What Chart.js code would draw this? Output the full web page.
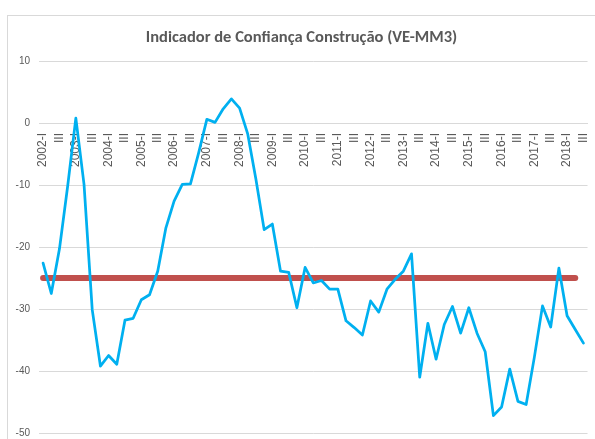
<!DOCTYPE html>
<html><head><meta charset="utf-8">
<script src="https://cdn.jsdelivr.net/npm/chart.js@4"></script>
<style>
html,body{margin:0;padding:0;background:#fff;overflow:hidden;width:595px;height:439px;}
#wrap{position:relative;width:595px;height:439px;overflow:hidden;}
#frame{position:absolute;left:7px;top:15px;width:700px;height:600px;border:1px solid #d9d9d9;box-sizing:border-box;}
canvas{position:absolute;left:0;top:0;}
</style></head><body>
<div id="wrap"><div id="frame"></div><canvas id="c" width="608" height="448"></canvas></div>
<script>
const titleText = 'Indicador de Confiança Construção (VE-MM3)';

const quarters = [
  '2002-I','II','III','IV','2003-I','II','III','IV','2004-I','II','III','IV',
  '2005-I','II','III','IV','2006-I','II','III','IV','2007-I','II','III','IV',
  '2008-I','II','III','IV','2009-I','II','III','IV','2010-I','II','III','IV',
  '2011-I','II','III','IV','2012-I','II','III','IV','2013-I','II','III','IV',
  '2014-I','II','III','IV','2015-I','II','III','IV','2016-I','II','III','IV',
  '2017-I','II','III','IV','2018-I','II','III'
];

const indicador = [
  -22.6, -27.5, -20.3, -10.2,   0.8,  -9.9, -30.1, -39.2, -37.5, -38.9, -31.8, -31.5,
  -28.5, -27.7, -23.9, -16.9, -12.6,  -9.9,  -9.8,  -4.8,   0.6,   0.1,   2.3,   3.9,
    2.4,  -1.8,  -9.1, -17.2, -16.3, -23.9, -24.1, -29.8, -23.3, -25.8, -25.4, -26.8,
  -26.8, -31.9, -33.0, -34.2, -28.7, -30.5, -26.8, -25.2, -23.9, -21.1, -41.0, -32.3,
  -38.1, -32.5, -29.6, -33.9, -29.8, -33.9, -36.9, -47.2, -45.8, -39.7, -44.9, -45.4,
  -37.8, -29.5, -32.9, -23.4, -31.1, -33.3, -35.5
];

const media = [
  -25, -25, -25, -25, -25, -25, -25, -25, -25, -25, -25, -25,
  -25, -25, -25, -25, -25, -25, -25, -25, -25, -25, -25, -25,
  -25, -25, -25, -25, -25, -25, -25, -25, -25, -25, -25, -25,
  -25, -25, -25, -25, -25, -25, -25, -25, -25, -25, -25, -25,
  -25, -25, -25, -25, -25, -25, -25, -25, -25, -25, -25, -25,
  -25, -25, -25, -25, -25, -25, null
];

const yMin = -50, yMax = 10, yStep = 10;

new Chart(document.getElementById('c'), {
  type: 'line',
  data: {
    labels: quarters,
    datasets: [
      {
        label: 'Indicador',
        data: indicador,
        borderColor: '#00b0f0',
        borderWidth: 2.75,
        pointRadius: 0,
        tension: 0,
        fill: false,
        borderJoinStyle: 'round',
        borderCapStyle: 'round'
      },
      {
        label: 'Média',
        data: media,
        borderColor: '#c0504d',
        borderWidth: 6,
        pointRadius: 0,
        tension: 0,
        fill: false,
        borderCapStyle: 'round',
        spanGaps: false
      }
    ]
  },
  options: {
    responsive: false,
    animation: false,
    events: [],
    layout: { padding: { left: 15, right: 20, top: 0, bottom: 6 } },
    plugins: {
      legend: { display: false },
      tooltip: { enabled: false },
      title: {
        display: true,
        text: titleText,
        color: '#595959',
        font: { family: 'Carlito, Lato, "Open Sans", sans-serif', size: 16.5, weight: 'bold', lineHeight: 1.25 },
        padding: { top: 28, bottom: 12.4 }
      }
    },
    scales: {
      x: {
        type: 'category',
        offset: true,
        position: { y: 0 },
        grid: { display: false, drawTicks: false },
        border: { display: true, color: '#d9d9d9', width: 1 },
        ticks: {
          autoSkip: false,
          minRotation: 90,
          maxRotation: 90,
          padding: 10,
          color: '#595959',
          font: { family: '"Liberation Sans", Arial, sans-serif', size: 12 },
          callback: function(value, index) { return index % 2 === 0 ? this.getLabelForValue(value) : ''; }
        }
      },
      y: {
        min: yMin,
        max: yMax,
        afterFit: (s) => { s.width = 24; },
        grid: { color: '#d9d9d9', lineWidth: 1, drawTicks: false },
        border: { display: false },
        ticks: {
          stepSize: yStep,
          padding: 9,
          color: '#595959',
          font: { family: '"Liberation Sans", Arial, sans-serif', size: 10 }
        }
      }
    }
  }
});
</script>
</body></html>
